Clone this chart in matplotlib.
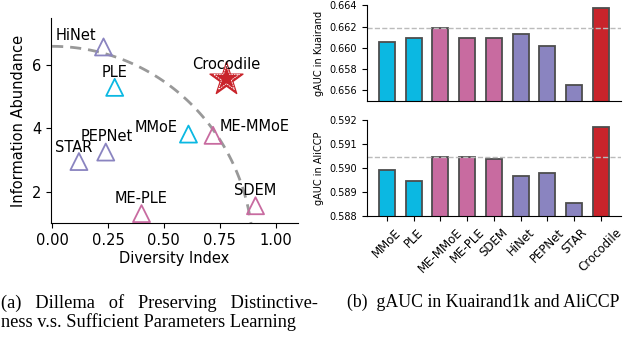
import numpy as np
import matplotlib.pyplot as plt

# Scatter data (left panel)
models = ["HiNet", "PLE", "Crocodile", "MMoE", "ME-MMoE", "PEPNet", "STAR", "ME-PLE", "SDEM"]
diversity = [0.23, 0.28, 0.78, 0.61, 0.72, 0.24, 0.12, 0.40, 0.91]
abundance = [6.58, 5.30, 5.58, 3.82, 3.78, 3.25, 2.95, 1.30, 1.55]
groups = ["single", "mtl", "ours", "mtl", "me", "single", "single", "me", "me"]

# Bar data (right panels)
bar_models = ["MMoE", "PLE", "ME-MMoE", "ME-PLE", "SDEM", "HiNet", "PEPNet", "STAR", "Crocodile"]
bar_groups = ["mtl", "mtl", "me", "me", "me", "single", "single", "single", "ours"]
kuairand = [0.66057, 0.66095, 0.66190, 0.66088, 0.66095, 0.66133, 0.66019, 0.65647, 0.66375]
aliccp = [0.58993, 0.58947, 0.59048, 0.59048, 0.59036, 0.58969, 0.58978, 0.58856, 0.59170]

colors = {"mtl": "#0BB8E2", "me": "#C86BA0", "single": "#8A84C0", "ours": "#C9242B"}

fig = plt.figure(figsize=(6.28, 3.38), dpi=100)

# ---- left: diversity vs abundance ----
ax = fig.add_axes([0.0812, 0.340, 0.3933, 0.607])
offsets = {"HiNet": (-20, 8), "PLE": (0, 11), "Crocodile": (0, 10), "MMoE": (-23, 5),
           "ME-MMoE": (30, 6), "PEPNet": (1, 11), "STAR": (-4, 10), "ME-PLE": (0, 11),
           "SDEM": (0, 11)}
for name, x, y, g in zip(models, diversity, abundance, groups):
    if g == "ours":
        ax.scatter(x, y, marker="*", s=620, color=colors[g], zorder=3)
        ax.scatter(x, y, marker="*", s=380, facecolor="none", edgecolor="white",
                   linewidth=0.6, linestyle=(0, (2, 1)), zorder=4)
    else:
        ax.scatter(x, y, marker="^", s=150, facecolor="none", edgecolor=colors[g],
                   linewidth=1.3, zorder=3)
    ax.annotate(name, (x, y), xytext=offsets[name], textcoords="offset points",
                ha="center", va="center", fontsize=10.5)

# pareto-like guide curve
t = np.linspace(0, np.pi / 2 * 0.955, 100)
ax.plot(0.9 * np.sin(t), 6.6 * np.cos(t), "--", color="#999999", lw=2, dashes=(4, 2.5), zorder=2)

ax.set_xlim(-0.005, 1.1)
ax.set_ylim(1.0, 7.5)
ax.set_xticks([0, 0.25, 0.5, 0.75, 1.0])
ax.set_yticks([2, 4, 6])
ax.tick_params(labelsize=10.5)
ax.set_xlabel("Diversity Index", fontsize=10.5, labelpad=2)
ax.set_ylabel("Information Abundance", fontsize=10.5)
ax.spines["top"].set_visible(False)
ax.spines["right"].set_visible(False)

# ---- right: gAUC bars ----
x = np.arange(len(bar_models))
bar_cols = [colors[g] for g in bar_groups]

ax1 = fig.add_axes([0.5844, 0.702, 0.404, 0.282])
ax1.bar(x, kuairand, width=0.6, color=bar_cols, edgecolor="0.3", linewidth=1.3)
ax1.axhline(max(kuairand[:-1]), color="#bbbbbb", ls="--", lw=1)
ax1.set_ylim(0.655, 0.664)
ax1.set_yticks([0.656, 0.658, 0.660, 0.662, 0.664])
ax1.set_xlim(-0.75, 8.75)
ax1.set_xticks([])
ax1.set_ylabel("gAUC in Kuairand", fontsize=7)
ax1.tick_params(labelsize=7)

ax2 = fig.add_axes([0.5844, 0.360, 0.404, 0.285])
ax2.bar(x, aliccp, width=0.6, color=bar_cols, edgecolor="0.3", linewidth=1.3)
ax2.axhline(max(aliccp[:-1]), color="#bbbbbb", ls="--", lw=1)
ax2.set_ylim(0.588, 0.592)
ax2.set_yticks([0.588, 0.589, 0.590, 0.591, 0.592])
ax2.set_xlim(-0.75, 8.75)
ax2.set_xticks(x)
ax2.set_xticklabels(bar_models, rotation=45, fontsize=8.5)
ax2.set_ylabel("gAUC in AliCCP", fontsize=7)
ax2.tick_params(axis="y", labelsize=7)

for a in (ax1, ax2):
    a.spines["top"].set_visible(False)
    a.spines["right"].set_visible(False)

# captions
fig.text(0.002, 1 - 294 / 338,
         "(a)   Dillema   of   Preserving   Distinctive-\nness v.s. Sufficient Parameters Learning",
         linespacing=1.1, fontsize=13.2, family="Liberation Serif", va="top")
fig.text(0.553, 1 - 294 / 338, "(b)  gAUC in Kuairand1k and AliCCP",
         fontsize=12.8, family="Liberation Serif", va="top")

fig.savefig("out.png", dpi=100)
